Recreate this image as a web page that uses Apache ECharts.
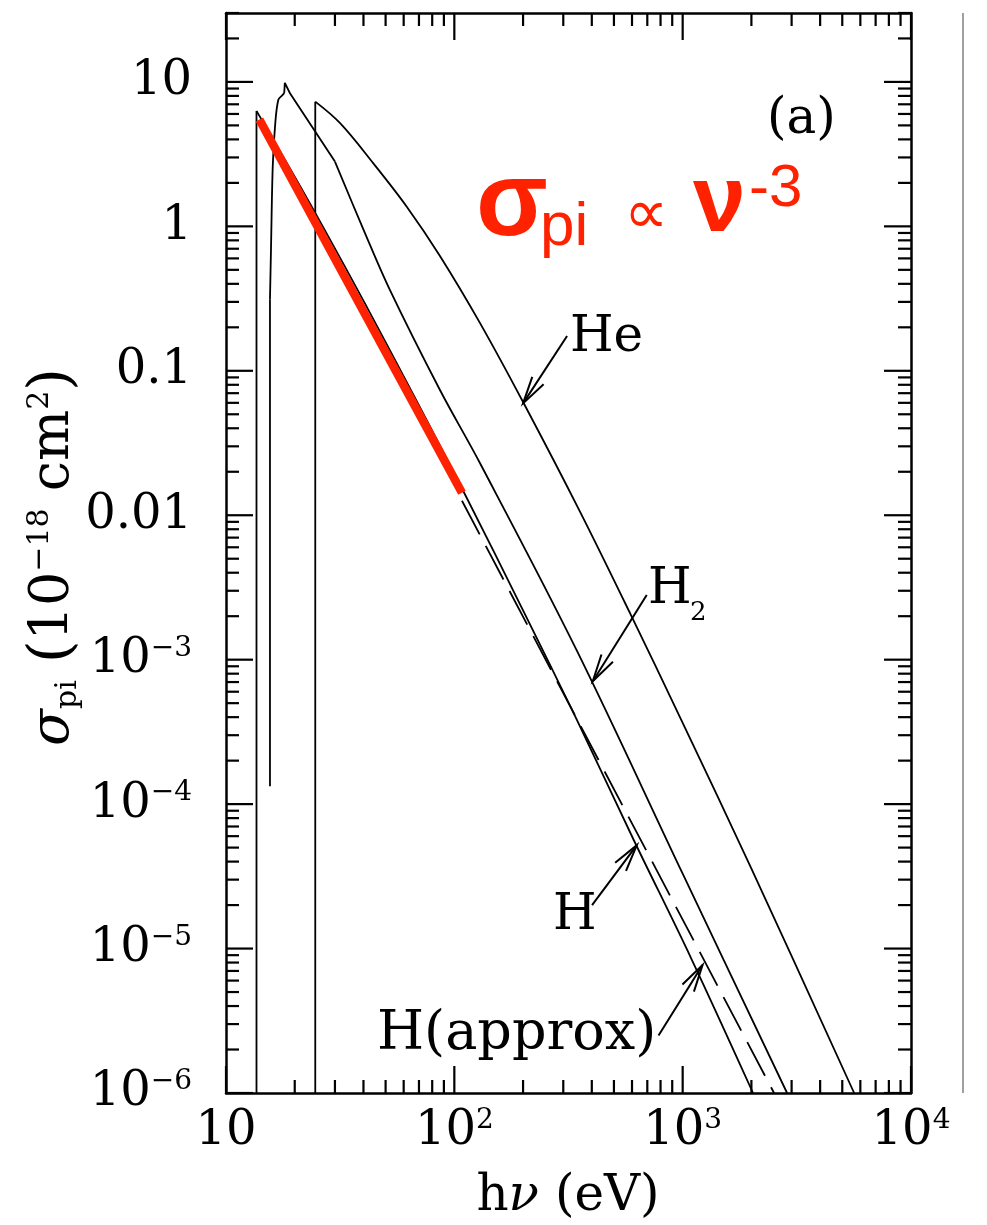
<!DOCTYPE html>
<html><head><meta charset="utf-8">
<script src="https://cdn.jsdelivr.net/npm/echarts@6/dist/echarts.min.js"></script>
<style>html,body{margin:0;padding:0;background:#fff}#c{width:987px;height:1225px}</style>
</head><body><div id="c"></div>
<script>
// ---- axis ranges and tick labels ----
const X_MIN = 10, X_MAX = 10000;
const Y_MIN = 1e-6, Y_MAX = 30;
const xTickValues = [10, 100, 1000, 10000];
const xTickBase = ['10', '10', '10', '10'];
const xTickExp = ['', '2', '3', '4'];
const yTickValues = [1e-6, 1e-5, 1e-4, 1e-3, 0.01, 0.1, 1, 10];
const yTickBase = ['10', '10', '10', '10', '0.01', '0.1', '1', '10'];
const yTickExp = ['−6', '−5', '−4', '−3', '', '', '', ''];

// ---- series values [hν (eV), σ (1e-18 cm^2)] ----
const hExact = [[13.6, 1.0e-6], [13.6, 6.3], [16.3, 3.86], [20.4, 2.09], [27.2, 0.93], [40.8, 0.288],
  [68, 0.0628], [109, 0.0149], [204, 2.06e-3], [340, 3.98e-4], [612, 5.6e-5], [1088, 8.6e-6], [2033, 1.0e-6]];
const hApprox = [[108, 0.0126], [2513, 1.0e-6]];
const h2 = [[15.58, 1.33e-4], [15.58, 0.31], [15.74, 0.69], [16.02, 2.58], [16.39, 4.88], [16.94, 7.5],
  [17.71, 8.13], [17.99, 8.4], [18.1, 9.84], [19.06, 8.35], [30.0, 2.81], [40, 0.95], [52.2, 0.363],
  [86.5, 0.0736], [129.6, 0.0229], [343.6, 1.16e-3], [1000, 3.3e-5], [2866, 1.0e-6]];
const he = [[24.6, 1.0e-6], [24.6, 7.3], [31.6, 5.18], [44.2, 2.73], [61.9, 1.369], [86.5, 0.624],
  [129.6, 0.214], [200, 0.0608], [355, 0.0106], [588, 2.1e-3], [1000, 3.65e-4], [2000, 3.58e-5], [5636, 1.0e-6]];
const nuMinus3 = [[14.0, 5.5], [108, 0.0143]];

// ---- annotation arrows (tail, tip) in data coordinates ----
const arrowHe = [[311.7, 0.174], [200, 0.0595]];
const arrowH2 = [[696, 2.8e-3], [404, 7.1e-4]];
const arrowH = [[401, 2.0e-5], [630, 5.2e-5]];
const arrowHa = [[784, 2.5e-6], [1222, 7.7e-6]];

// tick positions
const xMinor = [], yMinor = [];
for (let d = 10; d < X_MAX; d *= 10) for (let k = 2; k <= 9; k++) xMinor.push(k * d);
for (let e = -6; e <= 1; e++) for (let k = 2; k <= 9; k++) { const v = k * Math.pow(10, e); if (v <= Y_MAX) yMinor.push(v); }

const MAJ = 27, MIN = 13, TW = 2.2;
const SERIF = '"DejaVu Serif"';

function findIdx(arr, v) {
  return arr.findIndex(t => Math.abs(Math.log10(t) - Math.log10(v)) < 1e-6);
}
const richLab = {
  b: { fontFamily: SERIF, fontSize: 48, lineHeight: 50, color: '#000' },
  s: { fontFamily: SERIF, fontSize: 28, lineHeight: 32, verticalAlign: 'top', color: '#000' }
};
function fmt(vals, base, exp) {
  return function (v) {
    const i = findIdx(vals, v);
    if (i < 0) return '';
    return exp[i] ? '{b|' + base[i] + '}{s|' + exp[i] + '}' : '{b|' + base[i] + '}';
  };
}

const axisLineStyle = { show: true, onZero: false, lineStyle: { color: '#000', width: 2.5 } };
const chart = echarts.init(document.getElementById('c'), null, { renderer: 'canvas' });

const tickX = xTickValues.map(v => [v, Y_MIN, MAJ]).concat(xMinor.map(v => [v, Y_MIN, MIN]));
const tickY = yTickValues.map(v => [X_MIN, v, MAJ]).concat(yMinor.map(v => [X_MIN, v, MIN]));

function curve(name, data, smooth, extra) {
  return Object.assign({ name: name, type: 'line', data: data, showSymbol: false, symbol: 'none', z: 3,
    smooth: smooth ? 0.35 : false, lineStyle: { color: '#000', width: 1.8 } }, extra || {});
}

const option = {
  animation: false,
  backgroundColor: '#fff',
  grid: { left: 226, right: 76, top: 13, bottom: 132, containLabel: false },
  xAxis: [
    { type: 'log', logBase: 10, min: X_MIN, max: X_MAX, position: 'bottom', axisLine: axisLineStyle,
      axisTick: { show: false }, splitLine: { show: false }, minorTick: { show: false },
      axisLabel: { margin: 14, formatter: fmt(xTickValues, xTickBase, xTickExp), rich: richLab, color: '#000', hideOverlap: false } },
    { type: 'log', logBase: 10, min: X_MIN, max: X_MAX, position: 'top', axisLine: axisLineStyle,
      axisTick: { show: false }, splitLine: { show: false }, axisLabel: { show: false } }
  ],
  yAxis: [
    { type: 'log', logBase: 10, min: Y_MIN, max: Y_MAX, position: 'left', axisLine: axisLineStyle,
      axisTick: { show: false }, splitLine: { show: false }, minorTick: { show: false },
      axisLabel: { margin: 34, formatter: fmt(yTickValues, yTickBase, yTickExp), rich: richLab, color: '#000', hideOverlap: false } },
    { type: 'log', logBase: 10, min: Y_MIN, max: Y_MAX, position: 'right', axisLine: axisLineStyle,
      axisTick: { show: false }, splitLine: { show: false }, axisLabel: { show: false } }
  ],
  series: [
    curve('H edge', hExact.slice(0, 2), false),
    curve('H', hExact.slice(1), true),
    curve('H(approx)', hApprox, false, { lineStyle: { color: '#000', width: 1.8, type: [38, 13] } }),
    curve('H2 edge', h2.slice(0, 2), false),
    curve('H2 rise', h2.slice(1, 8), true),
    curve('H2 peak', h2.slice(7, 11), false),
    curve('H2', h2.slice(10), true),
    curve('He edge', he.slice(0, 2), false),
    curve('He', he.slice(1), true),
    { name: 'nu-3', type: 'line', data: nuMinus3, showSymbol: false, symbol: 'none', z: 4,
      lineStyle: { color: '#ff2200', width: 8.5, cap: 'butt' } },
    { name: 'xticks', type: 'custom', clip: false, silent: true, z: 6, data: tickX,
      renderItem: function (params, api) {
        const v = api.value(0), len = api.value(2);
        const b = api.coord([v, Y_MIN]), t = api.coord([v, Y_MAX]);
        return { type: 'group', children: [
          { type: 'line', shape: { x1: b[0], y1: b[1], x2: b[0], y2: b[1] - len }, style: { stroke: '#000', lineWidth: TW } },
          { type: 'line', shape: { x1: t[0], y1: t[1], x2: t[0], y2: t[1] + len }, style: { stroke: '#000', lineWidth: TW } }
        ] };
      } },
    { name: 'yticks', type: 'custom', clip: false, silent: true, z: 6, data: tickY,
      renderItem: function (params, api) {
        const v = api.value(1), len = api.value(2);
        const l = api.coord([X_MIN, v]), r = api.coord([X_MAX, v]);
        return { type: 'group', children: [
          { type: 'line', shape: { x1: l[0], y1: l[1], x2: l[0] + len, y2: l[1] }, style: { stroke: '#000', lineWidth: TW } },
          { type: 'line', shape: { x1: r[0], y1: r[1], x2: r[0] - len, y2: r[1] }, style: { stroke: '#000', lineWidth: TW } }
        ] };
      } }
  ]
};
chart.setOption(option);

// ---- annotations ----
const P = p => chart.convertToPixel({ xAxisIndex: 0, yAxisIndex: 0 }, p);
function arrow(def) {
  const a = P(def[0]), b = P(def[1]);
  const dx = a[0] - b[0], dy = a[1] - b[1], L = Math.hypot(dx, dy), ux = dx / L, uy = dy / L;
  const ang = 14 * Math.PI / 180, hl = 28;
  const rot = t => [ux * Math.cos(t) - uy * Math.sin(t), ux * Math.sin(t) + uy * Math.cos(t)];
  const w1 = rot(ang), w2 = rot(-ang);
  return [
    { type: 'line', z: 10, shape: { x1: a[0], y1: a[1], x2: b[0], y2: b[1] }, style: { stroke: '#000', lineWidth: 2 } },
    { type: 'polyline', z: 10, shape: { points: [[b[0] + w1[0] * hl, b[1] + w1[1] * hl], [b[0], b[1]], [b[0] + w2[0] * hl, b[1] + w2[1] * hl]] },
      style: { stroke: '#000', lineWidth: 2, fill: null } }
  ];
}
function txt(x, y, text, font, color, align) {
  return { type: 'text', z: 10, x: x, y: y, style: { text: text, font: font, fill: color || '#000',
    align: align || 'left', verticalAlign: 'middle', textAlign: align || 'left', textVerticalAlign: 'middle' } };
}
const RED = '#ff2200';
const elems = [].concat(
  arrow(arrowHe), arrow(arrowH2), arrow(arrowH), arrow(arrowHa),
  [
    txt(570, 338, 'He', '50px ' + SERIF),
    txt(648, 590, 'H', '50px ' + SERIF),
    txt(690, 613, '2', '26px ' + SERIF),
    txt(553, 916, 'H', '50px ' + SERIF),
    txt(377, 1035, 'H(approx)', '54px ' + SERIF),
    txt(767, 120, '(a)', '50px ' + SERIF),
    txt(476, 206, 'σ', 'bold 105px "Liberation Sans"', RED),
    txt(540, 228, 'pi', '62px "Liberation Sans"', RED),
    txt(624, 217, '∝', '62px "DejaVu Sans"', RED),
    txt(693, 205, 'ν', 'bold 95px "Liberation Sans"', RED),
    txt(749, 189, '-3', '60px "Liberation Sans"', RED),
    { type: 'text', z: 10, x: 568, y: 1197, style: {
        text: '{h|h}{nu|ν}{n| (eV)}', align: 'center', verticalAlign: 'middle', textAlign: 'center', textVerticalAlign: 'middle',
        rich: { h: { fontFamily: SERIF, fontSize: 50, lineHeight: 56, color: '#000' },
                nu: { fontFamily: SERIF, fontSize: 50, fontStyle: 'italic', lineHeight: 56, color: '#000' },
                n: { fontFamily: SERIF, fontSize: 50, lineHeight: 56, color: '#000' } } } },
    { type: 'text', z: 10, x: 54, y: 557, rotation: Math.PI / 2, style: {
        text: '{s|σ}{sub|pi}{n| }{p|(}{n|10}{sup|−18}{n| cm}{sup|2}{p|)}', align: 'center', verticalAlign: 'middle',
        textAlign: 'center', textVerticalAlign: 'middle',
        rich: { s: { fontFamily: SERIF, fontSize: 54, fontStyle: 'italic', lineHeight: 58, color: '#000' },
                sub: { fontFamily: SERIF, fontSize: 30, lineHeight: 24, verticalAlign: 'bottom', color: '#000' },
                p: { fontFamily: SERIF, fontSize: 58, lineHeight: 58, color: '#000' },
                n: { fontFamily: SERIF, fontSize: 54, lineHeight: 58, color: '#000' },
                sup: { fontFamily: SERIF, fontSize: 30, lineHeight: 32, verticalAlign: 'top', color: '#000' } } } },
    { type: 'line', z: 10, shape: { x1: 963, y1: 13, x2: 963, y2: 1093 }, style: { stroke: '#808080', lineWidth: 1.5 } }
  ]
);
chart.setOption({ graphic: { elements: elems } });
</script></body></html>
